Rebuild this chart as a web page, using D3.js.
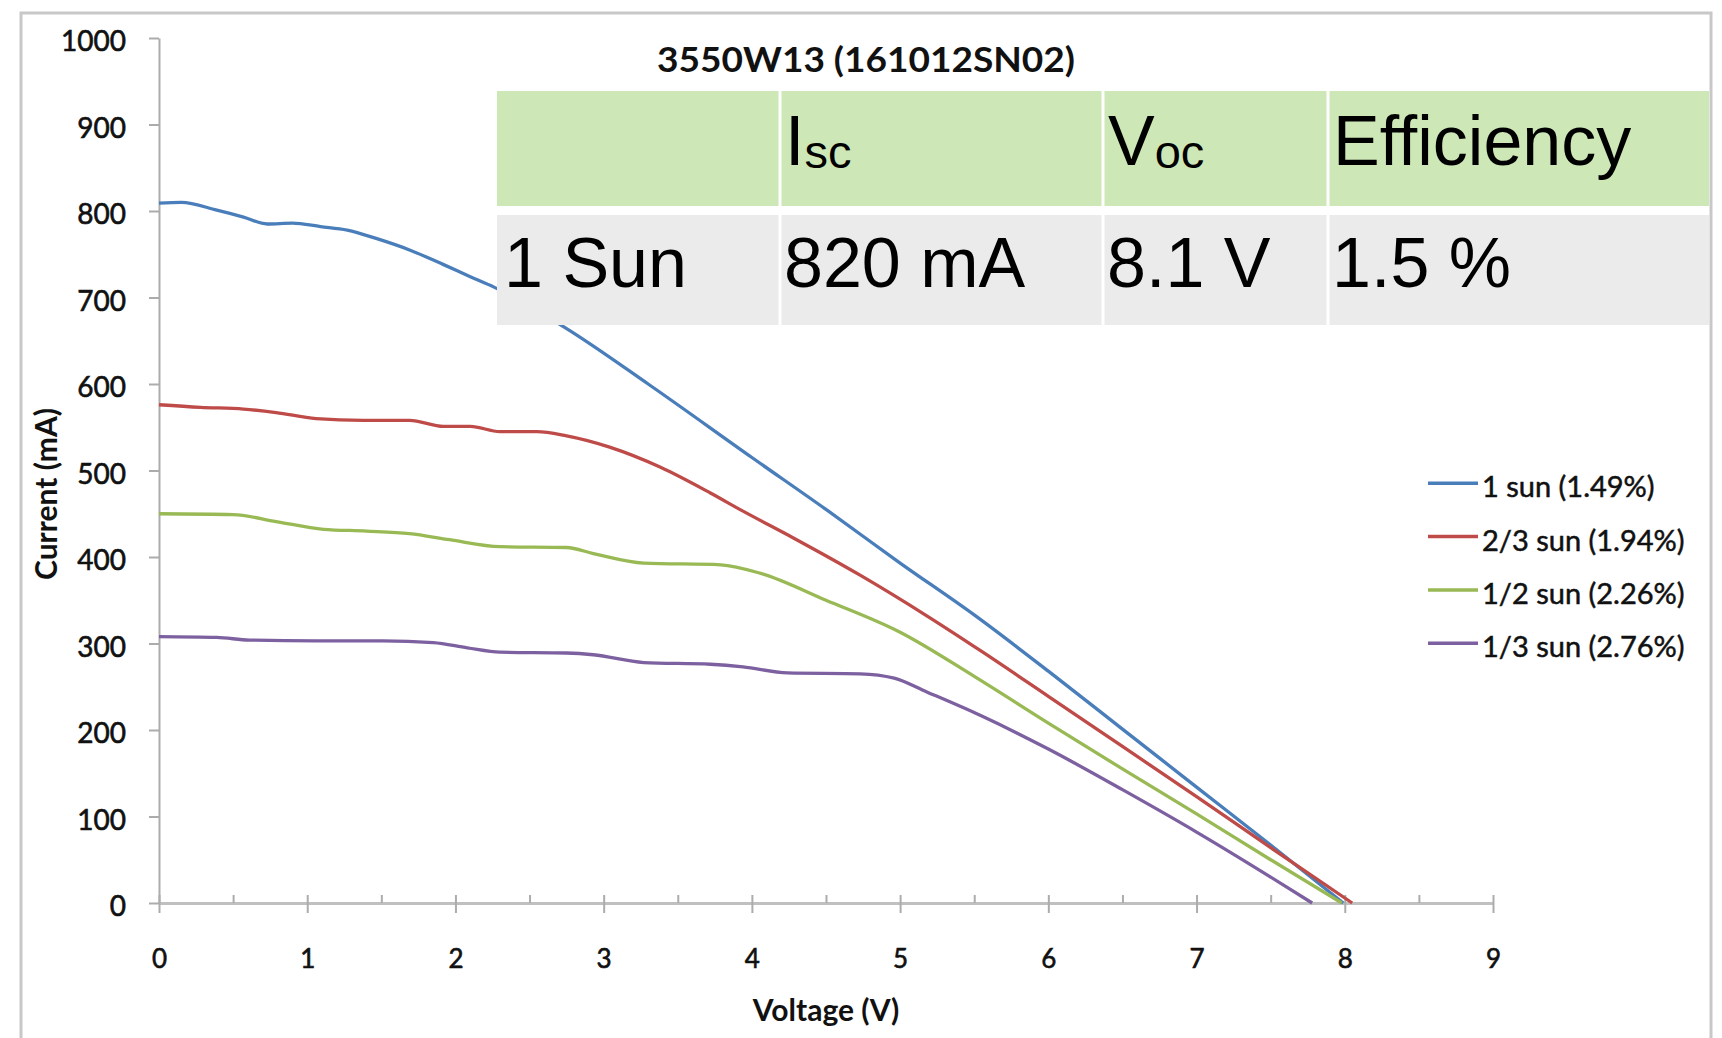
<!DOCTYPE html>
<html>
<head>
<meta charset="utf-8">
<script src="https://cdn.jsdelivr.net/npm/d3@7"></script>
<style>
  body { margin: 0; background: #fff; }
  svg { font-family: Lato, "Open Sans", sans-serif; }
</style>
</head>
<body>
<svg id="iv" width="1722" height="1038"></svg>
<script>
// values: [voltage (V), current (mA)]
const oneSun = [[0,809],[0.15,810],[0.39,801],[0.57,793],[0.73,785],[0.9,786],[1.09,782],[1.27,778],
  [1.47,768],[1.69,755],[1.92,738],[2.1,724],[2.26,712],[2.75,664],[3.3,600],[4.0,515],[4.5,455],
  [5.0,393],[5.5,333],[6.0,268],[6.5,201],[7.0,134],[7.5,67],[7.99,0]];
const twoThirdsSun = [[0,576],[0.28,573],[0.57,571],[0.79,567],[1.06,560],[1.38,558],[1.69,558],
  [1.92,551],[2.1,551],[2.3,545],[2.55,545],[2.75,540],[3.04,527],[3.38,504],[3.72,474],[3.94,453],
  [4.28,422],[4.73,379],[5.18,332],[5.54,292],[6.0,239],[6.5,181],[7.0,123],[7.5,64],[8.05,0]];
const halfSun = [[0,450],[0.5,449],[0.79,441],[1.11,432],[1.4,430],[1.69,427],[1.96,420],[2.3,412],
  [2.75,411],[2.93,404],[3.27,393],[3.79,391],[4.06,381],[4.5,350],[5.0,313],[5.5,262],
  [6.0,208],[6.5,155],[7.0,103],[7.5,50],[7.98,0]];
const thirdSun = [[0,308],[0.39,307],[0.61,304],[1.06,303],[1.51,303],[1.85,301],[2.08,295],[2.3,290],
  [2.75,289],[2.93,287],[3.27,278],[3.72,276],[3.94,273],[4.24,266],[4.73,265],[4.96,260],[5.18,244],
  [5.54,217],[6.0,178],[6.5,131],[7.0,82],[7.5,30],[7.78,0]];

const seriesNames = ["1 sun (1.49%)", "2/3 sun (1.94%)", "1/2 sun (2.26%)", "1/3 sun (2.76%)"];
const seriesColors = ["#4a7ebb", "#be4b48", "#98b954", "#7d60a0"];
const voltageTicks = d3.range(0, 10, 1);
const voltageMinor = d3.range(0, 9.01, 0.5);
const currentTicks = d3.range(0, 1001, 100);

const chartTitle = "3550W13 (161012SN02)";
const xTitle = "Voltage (V)";
const yTitle = "Current (mA)";
const tableHead = [["", ""], ["I", "sc"], ["V", "oc"], ["Efficiency", ""]];
const tableRow = ["1 Sun", "820 mA", "8.1 V", "1.5 %"];

const series = [oneSun, twoThirdsSun, halfSun, thirdSun].map((pts, i) => ({
  name: seriesNames[i], color: seriesColors[i], pts: pts
}));

const svg = d3.select("#iv");
const ink = "#111";

// outer frame
svg.append("rect")
  .attr("x", 21).attr("y", 13).attr("width", 1690).attr("height", 1100)
  .attr("fill", "none").attr("stroke", "#c8c8c8").attr("stroke-width", 3);

// scales
const x = d3.scaleLinear().domain([0, 9]).range([159, 1493]);
const y = d3.scaleLinear().domain([0, 1000]).range([903, 38]);
const axisGrey = "#acacac";

// y axis
const yAxis = svg.append("g")
  .attr("transform", `translate(${x(0)},0)`)
  .call(d3.axisLeft(y).tickValues(currentTicks).tickFormat(d3.format("d"))
    .tickSize(10).tickSizeOuter(0).tickPadding(23));
yAxis.attr("font-family", null).attr("font-size", 28);
yAxis.select(".domain").attr("stroke", axisGrey).attr("stroke-width", 2);
yAxis.selectAll(".tick line").attr("stroke", axisGrey).attr("stroke-width", 2);
yAxis.selectAll(".tick text").attr("fill", ink).attr("stroke", ink).attr("stroke-width", 0.6).attr("dy", "0.45em");

// x axis: major ticks cross the line, minor ticks sit above it
const xAxis = svg.append("g")
  .attr("transform", `translate(0,${y(0)})`)
  .call(d3.axisBottom(x).tickValues(voltageTicks).tickSize(10).tickSizeOuter(0).tickPadding(37));
xAxis.attr("font-family", null).attr("font-size", 26);
xAxis.select(".domain").attr("stroke", "#c0c0c0").attr("stroke-width", 3);
xAxis.selectAll(".tick line").attr("stroke", axisGrey).attr("stroke-width", 2);
xAxis.selectAll(".tick text").attr("fill", ink).attr("stroke", ink).attr("stroke-width", 0.6);

const xMinor = svg.append("g")
  .attr("transform", `translate(0,${y(0)})`)
  .call(d3.axisTop(x).tickValues(voltageMinor).tickSize(8).tickFormat(""));
xMinor.select(".domain").remove();
xMinor.selectAll(".tick line").attr("stroke", axisGrey).attr("stroke-width", 2);

// axis titles
svg.append("text")
  .attr("x", (x(0) + x(9)) / 2).attr("y", 1021)
  .attr("text-anchor", "middle").attr("font-size", 30).attr("font-weight", 700)
  .attr("fill", ink).text(xTitle);
svg.append("text")
  .attr("transform", "translate(57,494) rotate(-90)")
  .attr("text-anchor", "middle").attr("font-size", 30).attr("font-weight", 700)
  .attr("fill", ink).text(yTitle);

// curves
const line = d3.line()
  .x(d => x(d[0]))
  .y(d => y(d[1]))
  .curve(d3.curveMonotoneX);
svg.append("g").selectAll("path")
  .data(series)
  .join("path")
  .attr("d", d => line(d.pts))
  .attr("fill", "none")
  .attr("stroke", d => d.color)
  .attr("stroke-width", 3.3)
  .attr("stroke-linejoin", "round");

// title
svg.append("text")
  .attr("x", 866).attr("y", 72)
  .attr("text-anchor", "middle").attr("font-size", 35).attr("font-weight", 700)
  .attr("textLength", 418).attr("lengthAdjust", "spacingAndGlyphs")
  .attr("fill", ink).text(chartTitle);

// summary table on top of the plot
const colEdges = [497, 780, 1103, 1328, 1709];
const rows = [{top: 91, bottom: 206, fill: "#cde8b6"}, {top: 215, bottom: 325, fill: "#ebebeb"}];
const table = svg.append("g");
table.append("rect")
  .attr("x", colEdges[0]).attr("y", rows[0].top)
  .attr("width", colEdges[4] - colEdges[0]).attr("height", rows[1].bottom - rows[0].top)
  .attr("fill", "#fff");
rows.forEach(r => {
  for (let c = 0; c < 4; c++) {
    table.append("rect")
      .attr("x", colEdges[c] + (c ? 1.5 : 0)).attr("y", r.top)
      .attr("width", colEdges[c + 1] - colEdges[c] - (c ? 1.5 : 0) - (c < 3 ? 1.5 : 0))
      .attr("height", r.bottom - r.top)
      .attr("fill", r.fill);
  }
});
const tableFont = "'Liberation Sans', Arial, sans-serif";
tableHead.forEach((h, c) => {
  const t = table.append("text")
    .attr("x", colEdges[c] + 5).attr("y", 165)
    .style("font-family", tableFont)
    .attr("font-size", 70).attr("fill", "#000");
  t.append("tspan").text(h[0]);
  if (h[1]) t.append("tspan").attr("font-size", 47).attr("dy", 3).text(h[1]);
});
tableRow.forEach((v, c) => {
  table.append("text")
    .attr("x", colEdges[c] + (c ? 4 : 7)).attr("y", 287)
    .style("font-family", tableFont)
    .attr("font-size", 70).attr("fill", "#000").text(v);
});

// legend
const legend = svg.append("g").selectAll("g")
  .data(series)
  .join("g")
  .attr("transform", (d, i) => `translate(1428,${483.3 + i * 53.3})`);
legend.append("line")
  .attr("x1", 0).attr("x2", 50)
  .attr("stroke", d => d.color).attr("stroke-width", 3.5);
legend.append("text")
  .attr("x", 54).attr("y", 14)
  .attr("font-size", 29).attr("fill", ink)
  .attr("stroke", ink).attr("stroke-width", 0.5)
  .text(d => d.name);
</script>
</body>
</html>
